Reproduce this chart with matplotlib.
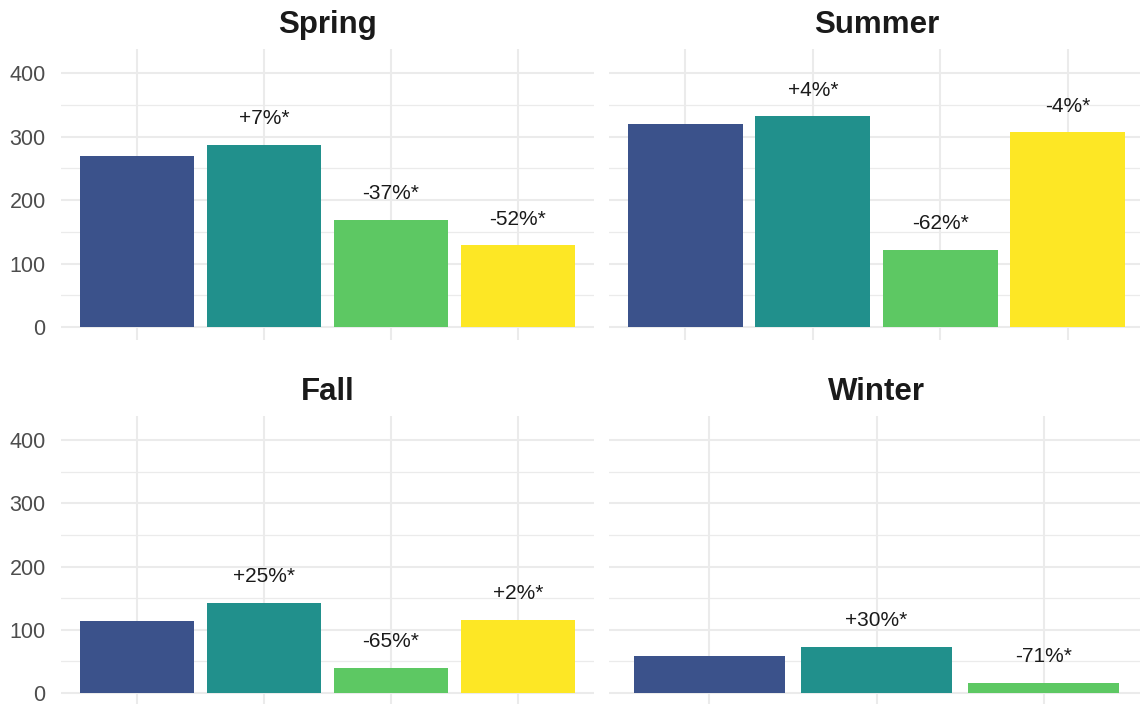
import matplotlib
matplotlib.use("Agg")
import matplotlib.pyplot as plt

plt.rcParams['font.family'] = ['Liberation Sans', 'DejaVu Sans']

# Data
seasons = ["Spring", "Summer", "Fall", "Winter"]
spring_vals = [269, 287, 169, 129]
summer_vals = [320, 332, 122, 307]
fall_vals = [114, 143, 40, 116]
winter_vals = [59, 73, 16]

spring_labels = ["", "+7%*", "-37%*", "-52%*"]
summer_labels = ["", "+4%*", "-62%*", "-4%*"]
fall_labels = ["", "+25%*", "-65%*", "+2%*"]
winter_labels = ["", "+30%*", "-71%*"]

colors = ["#3B528B", "#21908C", "#5DC863", "#FDE725"]

values = [spring_vals, summer_vals, fall_vals, winter_vals]
labels = [spring_labels, summer_labels, fall_labels, winter_labels]

W, H = 1140, 704
fig = plt.figure(figsize=(W / 100, H / 100), dpi=100)

# panel boxes in pixels: left, top, right, bottom
boxes = [
    (61, 49, 594, 340),
    (609, 49, 1144, 340),
    (61, 416, 594, 706),
    (609, 416, 1144, 706),
]

grid_col = "#EBEBEB"

for k, (season, vals, labs) in enumerate(zip(seasons, values, labels)):
    l, t, r, b = boxes[k]
    ax = fig.add_axes([l / W, (H - b) / H, (r - l) / W, (b - t) / H])
    n = len(vals)
    x = list(range(n))

    ax.set_xlim(-0.6, n - 1 + 0.6)
    ax.set_ylim(-20.5, 438)

    # grid
    for yv in [50, 150, 250, 350]:
        ax.axhline(yv, color=grid_col, lw=0.9, zorder=0)
    for yv in [0, 100, 200, 300, 400]:
        ax.axhline(yv, color=grid_col, lw=1.5, zorder=0)
    for xv in x:
        ax.axvline(xv, color=grid_col, lw=1.5, zorder=0)

    ax.bar(x, vals, width=0.9, color=colors[:n], zorder=2)

    for xi, v, s in zip(x, vals, labs):
        if s:
            ax.annotate(s, (xi, v), xytext=(0, 18.7), textcoords="offset points",
                        ha="center", va="center", fontsize=15, color="#1A1A1A")

    for sp in ax.spines.values():
        sp.set_visible(False)
    ax.set_xticks([])
    ax.set_yticks([0, 100, 200, 300, 400])
    ax.tick_params(axis="y", length=0, pad=11, labelsize=15.5, labelcolor="#4D4D4D")
    if k % 2 == 1:
        ax.set_yticklabels([])
    ax.set_facecolor("none")

    ax.annotate(season, (0.5, 1), xycoords="axes fraction", xytext=(0, 17),
                textcoords="offset points", ha="center", va="center",
                fontsize=22.5, fontweight="bold", color="#1A1A1A")

fig.savefig("out.png", dpi=100, facecolor="white")
